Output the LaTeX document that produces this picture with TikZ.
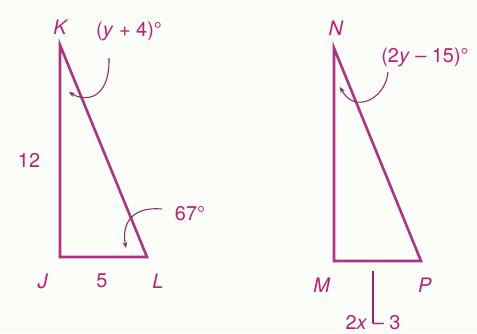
\documentclass[tikz,border=0pt]{standalone}
\usepackage{fontspec}
\setsansfont{TeX Gyre Heros}
\usetikzlibrary{arrows.meta}
\definecolor{fig-magenta}{RGB}{190,30,115}
\definecolor{fig-purple}{RGB}{175,50,135}
\definecolor{fig-paper}{RGB}{250,253,248}
\colorlet{labelcolor}{fig-magenta}
\colorlet{sidecolor}{fig-purple}
\colorlet{pointercolor}{fig-purple!80!black}

\begin{document}
\begin{tikzpicture}[x=0.03cm, y=-0.03cm, font=\sffamily\fontsize{17}{20}\selectfont,
    side/.style={line width=2.2pt, sidecolor, line join=miter},
    pointer/.style={line width=0.9pt, pointercolor, -{Stealth[length=5pt, width=4pt]}},
    lbl/.style={text=labelcolor, inner sep=0pt}]

    \fill[fig-paper] (0,0) rectangle (477,333);
    \useasboundingbox (0,0) rectangle (477,333);

    % ===== Triangle JKL =====
    \coordinate (K) at (60,45);
    \coordinate (J) at (60,257);
    \coordinate (L) at (147,257);
    \draw[side] (K) -- (J) -- (L) -- cycle;

    \node[lbl] (labelK) at (61,27) {\textit{K}};
    \node[lbl] (labelJ) at (43,281) {\textit{J}};
    \node[lbl] (labelL) at (158,281) {\textit{L}};
    \node[lbl] (sideKJ) at (29,160) {12};
    \node[lbl] (sideJL) at (102,281) {5};

    % angle at K
    \node[lbl] (angleK) at (129,31) {(\textit{y} + 4)°};
    \coordinate (angleKstart) at (109,58);
    \coordinate (angleKend) at (69,92);
    \draw[pointer] (angleKstart) .. controls (110,100) and (85,102) .. (angleKend);

    % angle at L
    \node[lbl] (angleL) at (190,214) {67°};
    \coordinate (angleLstart) at (162,209);
    \coordinate (angleLend) at (126,248);
    \draw[pointer] (angleLstart) .. controls (128,206) and (122,228) .. (angleLend);

    % ===== Triangle MNP =====
    \coordinate (N) at (334,48);
    \coordinate (M) at (334,261);
    \coordinate (P) at (421,261);
    \draw[side] (N) -- (M) -- (P) -- cycle;

    \node[lbl] (labelN) at (336,28) {\textit{N}};
    \node[lbl] (labelM) at (322,285) {\textit{M}};
    \node[lbl] (labelP) at (425,285) {\textit{P}};

    % angle at N
    \node[lbl] (angleN) at (425,57) {(2\textit{y} – 15)°};
    \coordinate (angleNstart) at (388,72);
    \coordinate (angleNend) at (340,87);
    \draw[pointer] (angleNstart) .. controls (386,98) and (355,115) .. (angleNend);

    % side MP
    \node[lbl] (sideMP) at (373,323) {2\textit{x} – 3};
    \coordinate (sideMPtop) at (373,271);
    \draw[line width=0.9pt, pointercolor] (sideMPtop) -- (sideMP.center);

\end{tikzpicture}
\end{document}
